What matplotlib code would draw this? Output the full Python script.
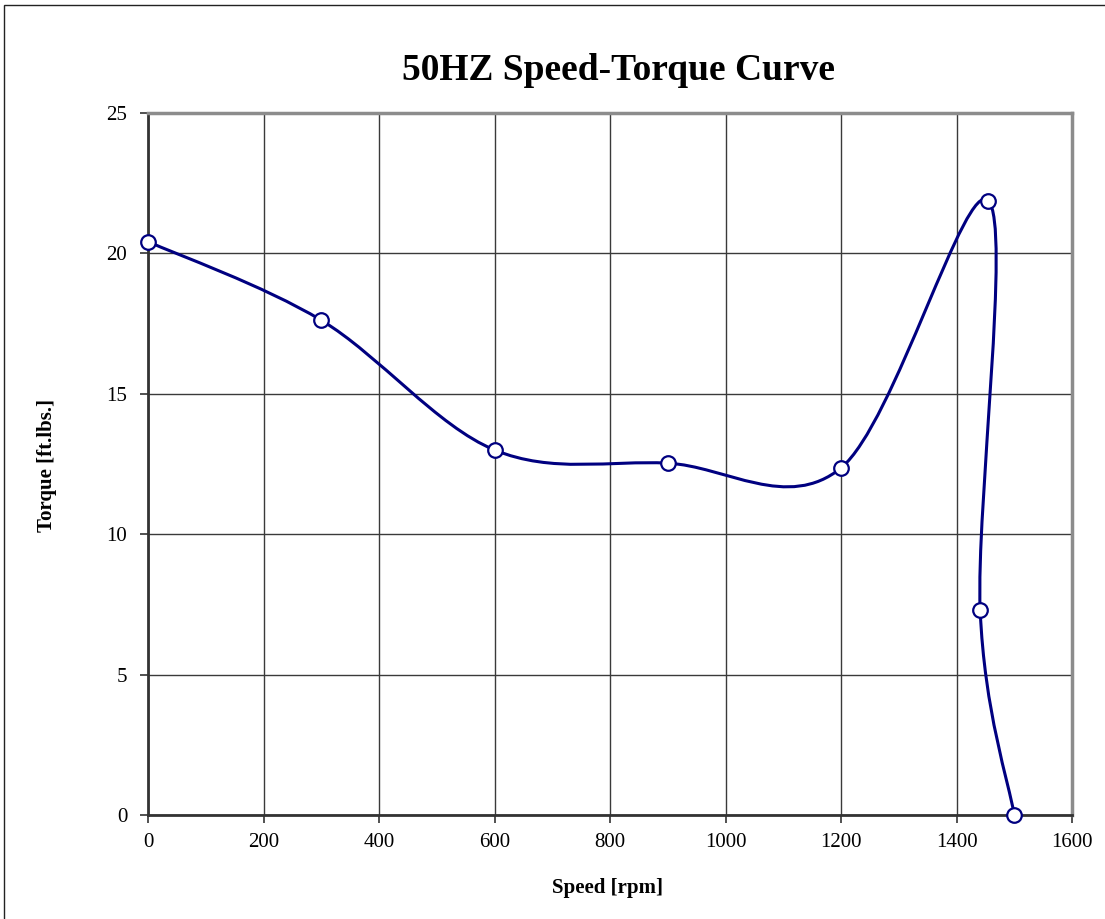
import numpy as np
import matplotlib
matplotlib.use("Agg")
import matplotlib.pyplot as plt
from matplotlib.path import Path
from matplotlib.patches import PathPatch, Rectangle

# Data
speed_rpm = [0, 300, 600, 900, 1200, 1455, 1441, 1500]
torque_ftlbs = [20.42, 17.62, 13.0, 12.53, 12.36, 21.88, 7.3, 0.0]
x_ticks = [0, 200, 400, 600, 800, 1000, 1200, 1400, 1600]
y_ticks = [0, 5, 10, 15, 20, 25]
title = "50HZ Speed-Torque Curve"
x_label = "Speed [rpm]"
y_label = "Torque [ft.lbs.]"

plt.rcParams['font.family'] = ['Liberation Serif', 'DejaVu Serif']

W, H = 1105, 919
fig = plt.figure(figsize=(W / 100, H / 100), dpi=100)
fig.patch.set_facecolor('white')

# figure border (left/top visible)
fig.patches.append(Rectangle((4 / W, -0.05), 1.2, 1 - 5 / H + 0.05, transform=fig.transFigure,
                             fill=False, edgecolor='#222222', linewidth=1.0))

ax = fig.add_axes([148 / W, 1 - 815 / H, (1072 - 148) / W, (815 - 113) / H])
ax.set_xlim(0, 1600)
ax.set_ylim(0, 25)
ax.set_xticks(x_ticks)
ax.set_yticks(y_ticks)
ax.tick_params(axis='both', direction='out', length=6, width=1.2, color='#333333',
               labelsize=15)
ax.tick_params(axis='x', pad=7)
ax.tick_params(axis='y', pad=9)
ax.grid(True, color='#3a3a3a', linewidth=1.0)
ax.set_axisbelow(True)
for s in ['left', 'bottom']:
    ax.spines[s].set_color('#333333')
    ax.spines[s].set_linewidth(2.0)
for s in ['top', 'right']:
    ax.spines[s].set_color('#8c8c8c')
    ax.spines[s].set_linewidth(2.5)

# Smoothed line (Excel-like Catmull-Rom Bezier through the data points)
P = np.column_stack([speed_rpm, torque_ftlbs]).astype(float)
n = len(P)
verts = [tuple(P[0])]
codes = [Path.MOVETO]
for i in range(n - 1):
    p0 = P[i - 1] if i > 0 else P[i]
    p1 = P[i]
    p2 = P[i + 1]
    p3 = P[i + 2] if i + 2 < n else P[i + 1]
    c1 = p1 + (p2 - p0) / 6.0
    c2 = p2 - (p3 - p1) / 6.0
    verts += [tuple(c1), tuple(c2), tuple(p2)]
    codes += [Path.CURVE4] * 3
ax.add_patch(PathPatch(Path(verts, codes), facecolor='none', edgecolor='#000080',
                       linewidth=2.2, zorder=3, clip_on=False))
ax.plot(speed_rpm, torque_ftlbs, linestyle='none', marker='o', markersize=10.5,
        markerfacecolor='white', markeredgecolor='#000080', markeredgewidth=1.6,
        zorder=4, clip_on=False)

fig.text(618 / W, 1 - 70 / H, title, ha='center', va='center', fontsize=27,
         fontweight='bold')
fig.text(608 / W, 1 - 888 / H, x_label, ha='center', va='center', fontsize=15,
         fontweight='bold')
fig.text(47 / W, 1 - 465 / H, y_label, ha='center', va='center', fontsize=15,
         fontweight='bold', rotation=90)

fig.savefig('out.png', dpi=100, facecolor='white')
